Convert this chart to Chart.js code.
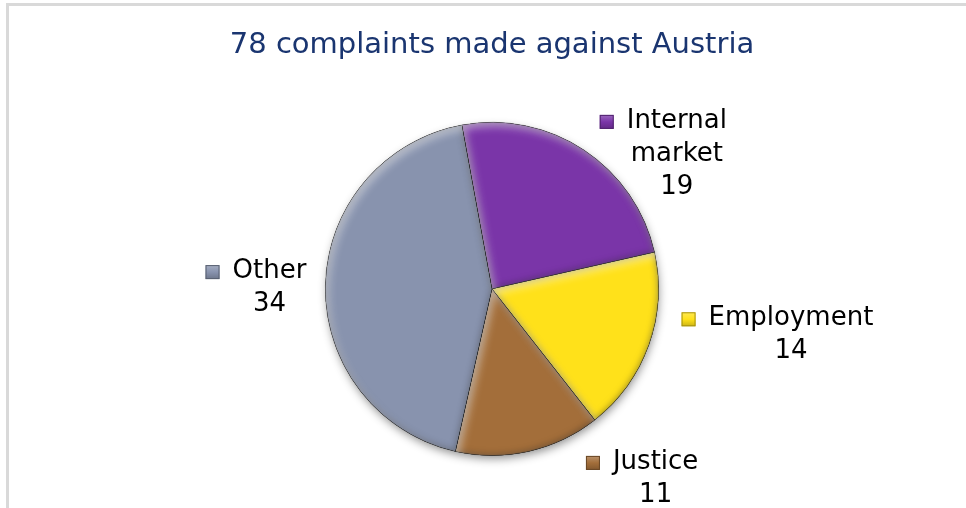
<!DOCTYPE html>
<html>
<head>
<meta charset="utf-8">
<script src="https://cdn.jsdelivr.net/npm/chart.js@4/dist/chart.umd.min.js"></script>
<style>
    html, body { margin: 0; padding: 0; background: #fff; }
    #wrap { width: 966px; height: 508px; }
</style>
</head>
<body>
<div id="wrap"><canvas id="chart" width="966" height="508"></canvas></div>
<script>
(function (Chart) {
    "use strict";

    var categories = ["Internal market", "Employment", "Justice", "Other"];
    var complaints = [19, 14, 11, 34];
    var sliceColors = ["#7a35a8", "#ffe11a", "#a36e3a", "#8893ae"];
    var titleText = "78 complaints made against Austria";

    // where each label block sits, relative to the outer point of its slice
    var labelShift = [[93, 4], [142, -10], [127, 27], [-56, 2]];

    function shade(hex, amt) {
        var n = parseInt(hex.slice(1), 16),
            r = (n >> 16) & 255, g = (n >> 8) & 255, b = n & 255;
        function f(c) {
            return Math.round(amt < 0 ? c * (1 + amt) : c + (255 - c) * amt);
        }
        return "rgb(" + f(r) + "," + f(g) + "," + f(b) + ")";
    }

    var framePlugin = {
        id: "frame",
        beforeDraw: function (chart) {
            var ctx = chart.ctx;
            ctx.save();
            ctx.fillStyle = "#d9d9d9";
            ctx.fillRect(6, 3, 3, chart.height - 3);
            ctx.fillRect(6, 3, chart.width - 6, 3);
            ctx.restore();
        }
    };

    // soft drop shadow under the whole pie
    var shadowPlugin = {
        id: "pieShadow",
        beforeDatasetsDraw: function (chart) {
            var arc = chart.getDatasetMeta(0).data[0],
                ctx = chart.ctx;
            if (!arc) return;
            ctx.save();
            ctx.shadowColor = "rgba(0,0,0,0.45)";
            ctx.shadowBlur = 10;
            ctx.shadowOffsetX = 1;
            ctx.shadowOffsetY = 4;
            ctx.fillStyle = "#8893ae";
            ctx.beginPath();
            ctx.arc(arc.x, arc.y, arc.outerRadius - 1, 0, Math.PI * 2);
            ctx.fill();
            ctx.restore();
        }
    };

    // bevel inside each slice: dark inner edge, light rim
    var bevelPlugin = {
        id: "bevel",
        afterDatasetsDraw: function (chart) {
            var ctx = chart.ctx;
            chart.getDatasetMeta(0).data.forEach(function (arc) {
                var p = arc.getProps(["x", "y", "startAngle", "endAngle", "outerRadius"], true);
                function slicePath() {
                    ctx.moveTo(p.x, p.y);
                    ctx.arc(p.x, p.y, p.outerRadius, p.startAngle, p.endAngle);
                    ctx.closePath();
                }
                ctx.save();
                ctx.beginPath();
                slicePath();
                ctx.clip();

                ctx.beginPath();
                ctx.rect(0, 0, chart.width, chart.height);
                slicePath();
                ctx.shadowColor = "rgba(0,0,0,0.5)";
                ctx.shadowBlur = 7;
                ctx.fillStyle = "#000";
                ctx.fill("evenodd");

                ctx.shadowColor = "rgba(255,255,255,0.55)";
                ctx.shadowBlur = 8;
                ctx.shadowOffsetX = 3;
                ctx.shadowOffsetY = 4;
                ctx.beginPath();
                ctx.rect(0, 0, chart.width, chart.height);
                slicePath();
                ctx.fill("evenodd");
                ctx.restore();
            });
        }
    };

    var labelPlugin = {
        id: "sliceLabels",
        afterDraw: function (chart) {
            var ctx = chart.ctx,
                lineH = 33,
                box = 14;
            ctx.save();
            ctx.font = "26px 'DejaVu Sans'";
            ctx.fillStyle = "#000";
            ctx.textAlign = "center";
            ctx.textBaseline = "middle";
            chart.getDatasetMeta(0).data.forEach(function (arc, i) {
                var p = arc.getProps(["x", "y", "startAngle", "endAngle", "outerRadius"], true),
                    mid = (p.startAngle + p.endAngle) / 2,
                    cx = p.x + Math.cos(mid) * p.outerRadius + labelShift[i][0],
                    cy = p.y + Math.sin(mid) * p.outerRadius + labelShift[i][1],
                    lines = categories[i].split(" ").concat([String(complaints[i])]),
                    top = cy - (lines.length - 1) * lineH / 2;

                lines.forEach(function (txt, k) {
                    ctx.fillText(txt, cx, top + k * lineH);
                });

                // legend key before the first line
                var w = ctx.measureText(lines[0]).width,
                    kx = cx - w / 2 - 13 - box,
                    ky = top - box / 2 + 1,
                    g = ctx.createLinearGradient(kx, ky, kx, ky + box);
                g.addColorStop(0, shade(sliceColors[i], 0.25));
                g.addColorStop(0.5, sliceColors[i]);
                g.addColorStop(1, shade(sliceColors[i], -0.2));
                ctx.fillStyle = g;
                ctx.fillRect(kx, ky, box, box);
                ctx.strokeStyle = shade(sliceColors[i], -0.35);
                ctx.lineWidth = 1;
                ctx.strokeRect(kx + 0.5, ky + 0.5, box - 1, box - 1);
                ctx.fillStyle = "#000";
            });
            ctx.restore();
        }
    };

    new Chart(document.getElementById("chart"), {
        type: "pie",
        data: {
            labels: categories,
            datasets: [{
                data: complaints,
                backgroundColor: sliceColors,
                borderColor: "rgba(40,40,40,0.35)",
                borderWidth: 1
            }]
        },
        options: {
            responsive: false,
            animation: false,
            rotation: -10.4,
            layout: { padding: { left: 18, right: 0, top: 0, bottom: 52 } },
            events: [],
            plugins: {
                legend: { display: false },
                tooltip: { enabled: false },
                title: {
                    display: true,
                    text: titleText,
                    color: "#1a3570",
                    font: { family: "'DejaVu Sans'", size: 29, weight: "normal", lineHeight: 1.2 },
                    padding: { top: 28, bottom: 59 }
                }
            }
        },
        plugins: [framePlugin, shadowPlugin, bevelPlugin, labelPlugin]
    });
})(Chart);
</script>
</body>
</html>
